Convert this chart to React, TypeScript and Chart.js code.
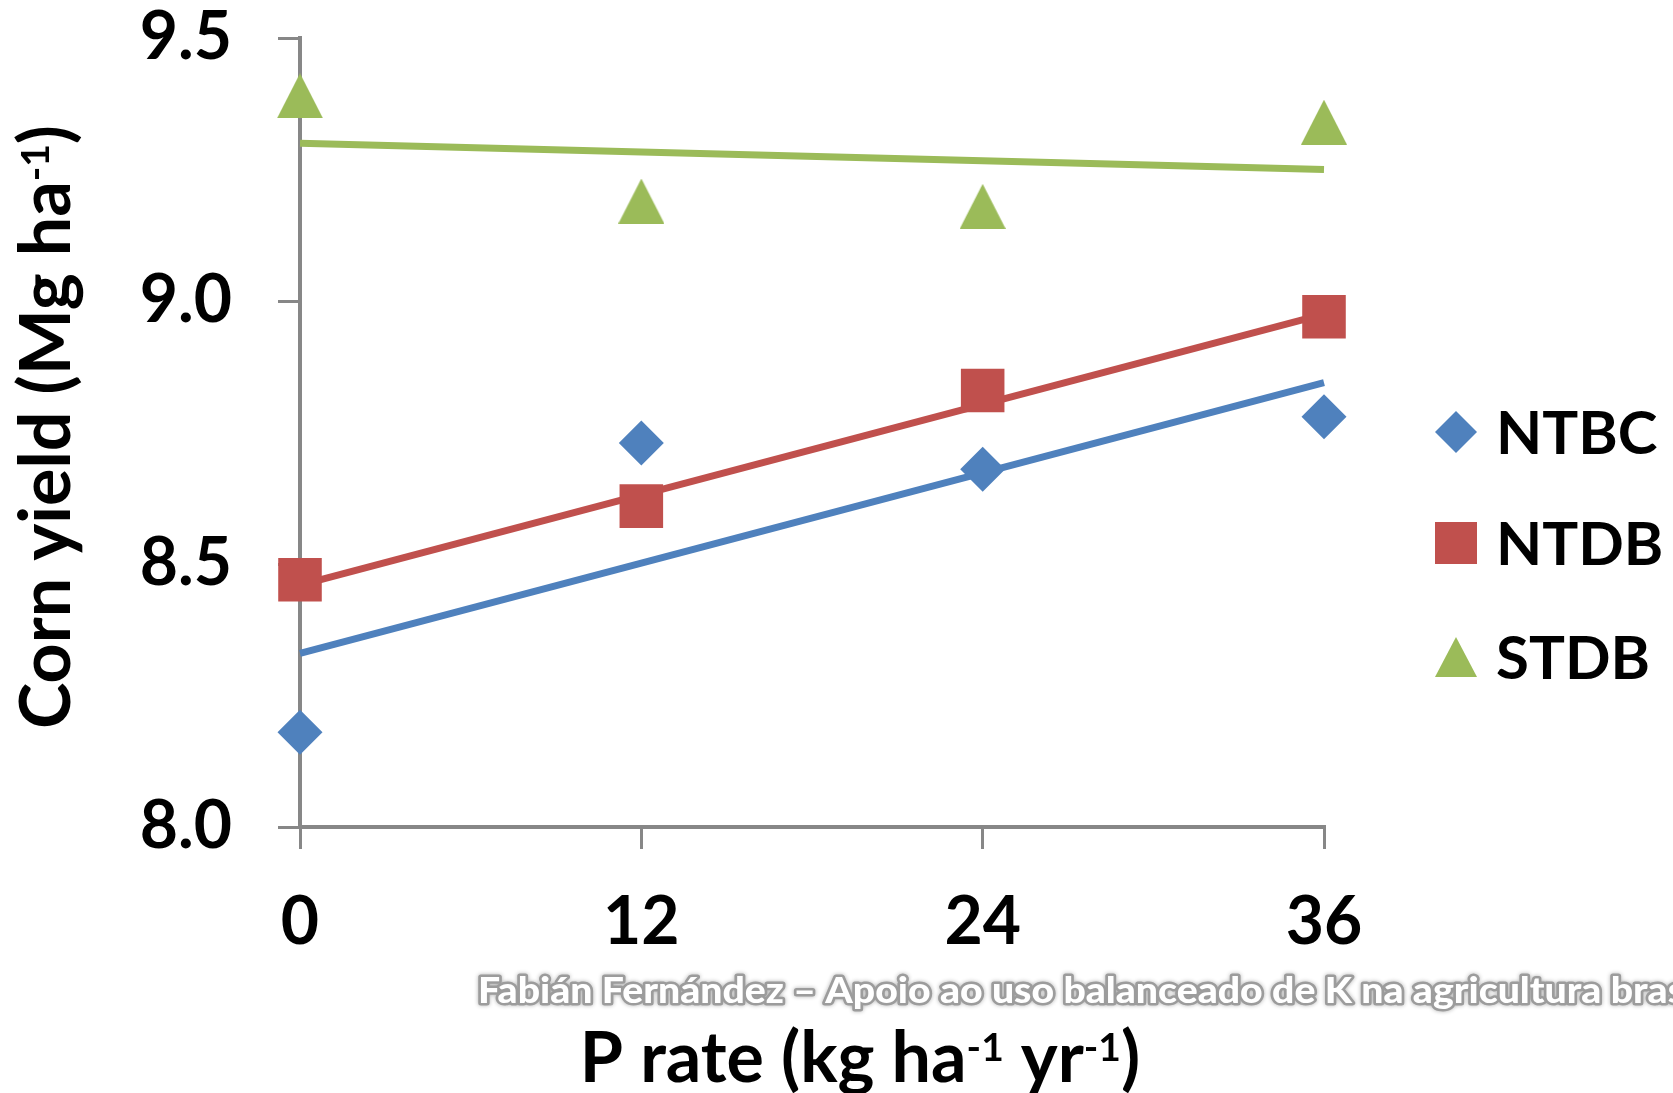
import React, { useEffect, useRef } from "react";
import { Chart, registerables } from "chart.js";

Chart.register(...registerables);

const W = 1673;
const H = 1093;

// ---- data ----
const pRates = [0, 12, 24, 36];
const ntbcYield = [8.18, 8.73, 8.68, 8.78];
const ntdbYield = [8.47, 8.61, 8.83, 8.97];
const stdbYield = [9.39, 9.19, 9.18, 9.34];
const trendRates = [0, 36];
const ntbcTrend = [8.33, 8.845];
const ntdbTrend = [8.46, 8.975];
const stdbTrend = [9.3, 9.25];
const seriesNames = ["NTBC", "NTDB", "STDB"];
const seriesColors = ["#4F81BD", "#C0504D", "#9BBB59"];
const yTickValues = [8.0, 8.5, 9.0, 9.5];
const xTickValues = [0, 12, 24, 36];
const yTitleParts: [string, boolean][] = [["Corn yield (Mg ha", false], ["-1", true], [")", false]];
const xTitleParts: [string, boolean][] = [["P rate (kg ha", false], ["-1", true], [" yr", false], ["-1", true], [")", false]];
const watermarkVisible = "Fabián Fernández – Apoio ao uso balanceado de K na agricultura bras";
const watermarkText = "Fabián Fernández – Apoio ao uso balanceado de K na agricultura brasileira";

const FONT = "Lato, 'Open Sans', sans-serif";
const AXIS_GREY = "#878787";

function pts(xs: number[], ys: number[]) {
  return xs.map((x, i) => ({ x, y: ys[i] }));
}

function makeTriangle(w: number, h: number, color: string) {
  const c = document.createElement("canvas");
  c.width = w;
  c.height = h;
  const g = c.getContext("2d")!;
  g.fillStyle = color;
  g.beginPath();
  g.moveTo(w / 2, 0);
  g.lineTo(w, h);
  g.lineTo(0, h);
  g.closePath();
  g.fill();
  return c;
}

function drawRich(ctx: CanvasRenderingContext2D, parts: [string, boolean][], cx: number, baseline: number, size: number) {
  const main = `bold ${size}px ${FONT}`;
  const sup = `bold ${Math.round(size * 0.55)}px ${FONT}`;
  let total = 0;
  const widths = parts.map(([t, s]) => {
    ctx.font = s ? sup : main;
    const w = ctx.measureText(t).width;
    total += w;
    return w;
  });
  let x = cx - total / 2;
  ctx.textAlign = "left";
  ctx.textBaseline = "alphabetic";
  parts.forEach(([t, s], i) => {
    ctx.font = s ? sup : main;
    ctx.fillText(t, x, s ? baseline - size * 0.3 : baseline);
    x += widths[i];
  });
}

const decorPlugin = {
  id: "decor",
  afterDraw(chart: any) {
    const ctx: CanvasRenderingContext2D = chart.ctx;
    ctx.save();
    ctx.fillStyle = "#000";

    // y-axis title
    ctx.save();
    ctx.translate(70, 427);
    ctx.rotate(-Math.PI / 2);
    drawRich(ctx, yTitleParts, 0, 0, 70);
    ctx.restore();

    // x-axis title
    drawRich(ctx, xTitleParts, 860, 1082, 70);

    // legend
    const rows = [432, 543, 657];
    const mx = 1456;
    rows.forEach((y, i) => {
      ctx.fillStyle = seriesColors[i];
      ctx.beginPath();
      if (i === 0) {
        ctx.moveTo(mx, y - 21);
        ctx.lineTo(mx + 21, y);
        ctx.lineTo(mx, y + 21);
        ctx.lineTo(mx - 21, y);
      } else if (i === 1) {
        ctx.rect(mx - 21, y - 21, 42, 42);
      } else {
        ctx.moveTo(mx, y - 20);
        ctx.lineTo(mx + 21, y + 20);
        ctx.lineTo(mx - 21, y + 20);
      }
      ctx.closePath();
      ctx.fill();
      ctx.fillStyle = "#000";
      ctx.font = `bold 60px ${FONT}`;
      ctx.textAlign = "left";
      ctx.textBaseline = "alphabetic";
      ctx.fillText(seriesNames[i], 1496, y + 22);
    });

    // watermark
    ctx.font = `900 36px ${FONT}`;
    const mw = ctx.measureText(watermarkVisible).width;
    const sx = 1207 / mw;
    ctx.save();
    ctx.translate(478, 1003);
    ctx.scale(sx, 1);
    ctx.textAlign = "left";
    ctx.textBaseline = "alphabetic";
    ctx.lineJoin = "round";
    ctx.lineWidth = 5;
    ctx.strokeStyle = "#9c9c9c";
    ctx.shadowColor = "rgba(0,0,0,0.3)";
    ctx.shadowBlur = 4;
    ctx.strokeText(watermarkText, 0, 0);
    ctx.shadowBlur = 0;
    ctx.shadowColor = "transparent";
    ctx.fillStyle = "#ffffff";
    ctx.fillText(watermarkText, 0, 0);
    ctx.restore();

    ctx.restore();
  },
};

export default function App() {
  const ref = useRef<HTMLCanvasElement | null>(null);

  useEffect(() => {
    document.body.style.margin = "0";
    const canvas = ref.current!;
    const tri = makeTriangle(46, 45, seriesColors[2]);
    const trendLine = (data: number[], color: string) => ({
      type: "line" as const,
      data: pts(trendRates, data),
      borderColor: color,
      borderWidth: 7,
      pointRadius: 0,
      fill: false,
      order: 2,
      clip: false as any,
    });
    const tickFont = { family: FONT, weight: "bold", size: 66 };
    const chart = new Chart(canvas, {
      type: "scatter",
      data: {
        datasets: [
          {
            label: seriesNames[0],
            data: pts(pRates, ntbcYield),
            pointStyle: "rectRot",
            pointRadius: 22.5,
            backgroundColor: seriesColors[0],
            borderColor: seriesColors[0],
            pointBorderWidth: 0,
            order: 1,
            clip: false as any,
          },
          {
            label: seriesNames[1],
            data: pts(pRates, ntdbYield),
            pointStyle: "rect",
            pointRadius: 30.8,
            backgroundColor: seriesColors[1],
            borderColor: seriesColors[1],
            pointBorderWidth: 0,
            order: 1,
            clip: false as any,
          },
          {
            label: seriesNames[2],
            data: pts(pRates, stdbYield),
            pointStyle: tri as any,
            pointRadius: 24,
            backgroundColor: seriesColors[2],
            borderColor: seriesColors[2],
            pointBorderWidth: 0,
            order: 1,
            clip: false as any,
          },
          { label: "NTBC trend", ...trendLine(ntbcTrend, seriesColors[0]) } as any,
          { label: "NTDB trend", ...trendLine(ntdbTrend, seriesColors[1]) } as any,
          { label: "STDB trend", ...trendLine(stdbTrend, seriesColors[2]) } as any,
        ],
      },
      options: {
        animation: false,
        responsive: false,
        devicePixelRatio: 1,
        layout: { padding: { top: 38, right: 349, bottom: 0, left: 0 } },
        plugins: {
          legend: { display: false },
          tooltip: { enabled: false },
          title: { display: false },
        },
        scales: {
          x: {
            type: "linear",
            min: 0,
            max: 36,
            afterBuildTicks: (s: any) => {
              s.ticks = xTickValues.map((v) => ({ value: v }));
            },
            afterFit: (s: any) => {
              s.height = 266;
              s.paddingLeft = 0;
              s.paddingRight = 0;
            },
            ticks: {
              color: "#000",
              padding: 34,
              font: tickFont,
              callback: (v: any) => String(v),
            },
            grid: {
              drawOnChartArea: false,
              drawTicks: true,
              tickLength: 22,
              color: AXIS_GREY,
              lineWidth: 3,
            },
            border: { display: true, color: AXIS_GREY, width: 4 },
          },
          y: {
            type: "linear",
            min: 8,
            max: 9.5,
            afterBuildTicks: (s: any) => {
              s.ticks = yTickValues.map((v) => ({ value: v }));
            },
            afterFit: (s: any) => {
              s.width = 300;
              s.paddingTop = 0;
              s.paddingBottom = 0;
            },
            ticks: {
              color: "#000",
              padding: 46,
              font: tickFont,
              callback: (v: any) => Number(v).toFixed(1),
            },
            grid: {
              drawOnChartArea: false,
              drawTicks: true,
              tickLength: 22,
              color: AXIS_GREY,
              lineWidth: 3,
            },
            border: { display: true, color: AXIS_GREY, width: 4 },
          },
        },
      } as any,
      plugins: [decorPlugin],
    });
    return () => chart.destroy();
  }, []);

  return (
    <div style={{ position: "fixed", left: 0, top: 0, width: W, height: H, background: "#fff" }}>
      <canvas ref={ref} width={W} height={H} style={{ width: W, height: H, display: "block" }} />
    </div>
  );
}
